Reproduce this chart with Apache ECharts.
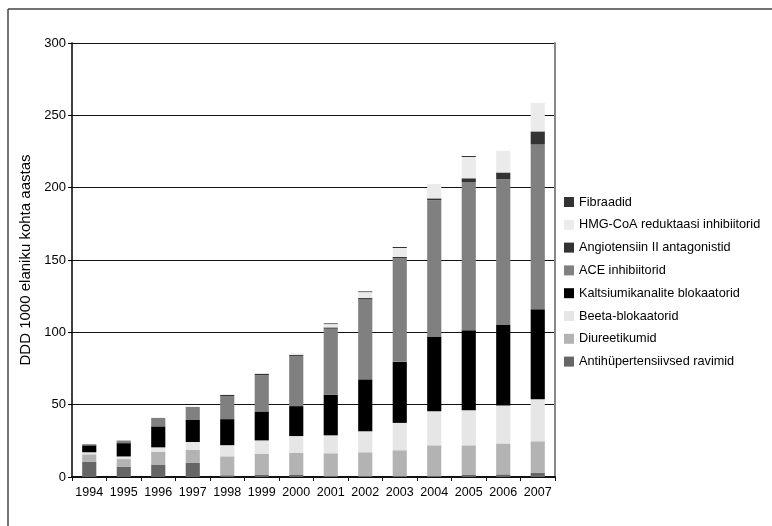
<!DOCTYPE html>
<html>
<head>
<meta charset="utf-8">
<script src="https://cdn.jsdelivr.net/npm/echarts@6/dist/echarts.min.js"></script>
<style>
html,body{margin:0;padding:0;background:#fff;}
#chart{width:772px;height:526px;}
</style>
</head>
<body>
<div id="chart"></div>
<script>
const years = ['1994','1995','1996','1997','1998','1999','2000','2001','2002','2003','2004','2005','2006','2007'];
const yTicks = [0, 50, 100, 150, 200, 250, 300];

const antihypertensiivsed = [10.4, 6.9, 8.3, 9.7, 1.2, 1.4, 1.4, 0.5, 0.5, 0.5, 0.5, 1.4, 1.8, 2.8];
const diureetikumid      = [5.3, 5.5, 9.0, 9.0, 13.1, 14.5, 15.2, 15.9, 16.6, 18.0, 21.4, 20.5, 21.4, 21.9];
const beetablokaatorid   = [1.4, 1.8, 3.2, 5.5, 7.7, 9.4, 11.7, 12.4, 14.5, 18.9, 23.5, 24.2, 26.3, 29.0];
const kaltsiumikanalite  = [4.8, 9.2, 14.5, 15.2, 18.0, 20.0, 20.7, 28.1, 35.9, 42.2, 51.8, 55.3, 56.0, 62.2];
const aceInhibiitorid    = [0.8, 1.8, 5.8, 9.0, 16.0, 25.1, 34.6, 45.6, 55.5, 71.6, 94.0, 102.3, 100.2, 114.2];
const angiotensiin       = [0, 0, 0, 0, 0.7, 0.9, 0.7, 0.9, 0.7, 0.9, 1.4, 2.8, 4.8, 8.8];
const hmgCoA             = [0, 0, 0.4, 0.4, 0.5, 0.3, 1.2, 2.3, 4.1, 6.2, 9.9, 14.7, 15.0, 19.7];
const fibraadid          = [0, 0, 0, 0, 0, 0, 0, 0.5, 0.5, 0.7, 0, 0.7, 0, 0];

const seriesNames = [
  'Antihüpertensiivsed ravimid',
  'Diureetikumid',
  'Beeta-blokaatorid',
  'Kaltsiumikanalite blokaatorid',
  'ACE inhibiitorid',
  'Angiotensiin II antagonistid',
  'HMG-CoA reduktaasi inhibiitorid',
  'Fibraadid'
];
const seriesData = [antihypertensiivsed, diureetikumid, beetablokaatorid, kaltsiumikanalite, aceInhibiitorid, angiotensiin, hmgCoA, fibraadid];
const seriesColors = ['#666666', '#b3b3b3', '#e6e6e6', '#000000', '#808080', '#333333', '#ebebeb', '#333333'];

const FONT = "'Liberation Sans', Arial, sans-serif";

const chart = echarts.init(document.getElementById('chart'), null, {renderer: 'canvas'});

const series = seriesNames.map((n, i) => ({
  name: n,
  type: 'bar',
  stack: 'total',
  yAxisIndex: 0,
  barWidth: '41%',
  data: seriesData[i],
  itemStyle: {color: seriesColors[i]},
  emphasis: {disabled: true}
}));

chart.setOption({
  animation: false,
  backgroundColor: '#ffffff',
  textStyle: {fontFamily: FONT},
  graphic: [
    {type: 'line', shape: {x1: 8, y1: 9, x2: 772, y2: 9}, style: {stroke: '#444', lineWidth: 1.5}},
    {type: 'line', shape: {x1: 8, y1: 9, x2: 8, y2: 526}, style: {stroke: '#444', lineWidth: 1.5}}
  ],
  grid: {left: 72, right: 217, top: 43, bottom: 49},
  legend: {
    orient: 'vertical',
    left: 559,
    top: 190,
    itemWidth: 10,
    itemHeight: 10,
    itemGap: 8.8,
    icon: 'rect',
    selectedMode: false,
    data: seriesNames.slice().reverse(),
    textStyle: {fontFamily: FONT, fontSize: 12.7, color: '#000', lineHeight: 14}
  },
  xAxis: {
    type: 'category',
    data: years,
    boundaryGap: true,
    axisLine: {lineStyle: {color: '#111', width: 2}},
    axisTick: {show: true, alignWithLabel: false, length: 4, lineStyle: {color: '#111'}},
    axisLabel: {color: '#000', fontSize: 12.5, fontFamily: FONT, margin: 9, interval: 0},
    splitLine: {show: false}
  },
  yAxis: [
    {
      type: 'value',
      min: yTicks[0],
      max: yTicks[yTicks.length - 1],
      interval: yTicks[1] - yTicks[0],
      name: 'DDD 1000 elaniku kohta aastas',
      nameLocation: 'middle',
      nameGap: 34,
      nameTextStyle: {color: '#000', fontSize: 15, fontFamily: FONT},
      axisLine: {show: true, lineStyle: {color: '#000', width: 1.5}},
      axisTick: {show: true, length: 4, lineStyle: {color: '#000'}},
      axisLabel: {color: '#000', fontSize: 13, fontFamily: FONT, margin: 6},
      splitLine: {show: true, lineStyle: {color: '#111', width: 1}}
    },
    {
      type: 'value',
      position: 'right',
      min: yTicks[0],
      max: yTicks[yTicks.length - 1],
      interval: yTicks[1] - yTicks[0],
      axisLine: {show: true, lineStyle: {color: '#888', width: 2}},
      axisTick: {show: false},
      axisLabel: {show: false},
      splitLine: {show: false}
    }
  ],
  series: series
});
</script>
</body>
</html>
